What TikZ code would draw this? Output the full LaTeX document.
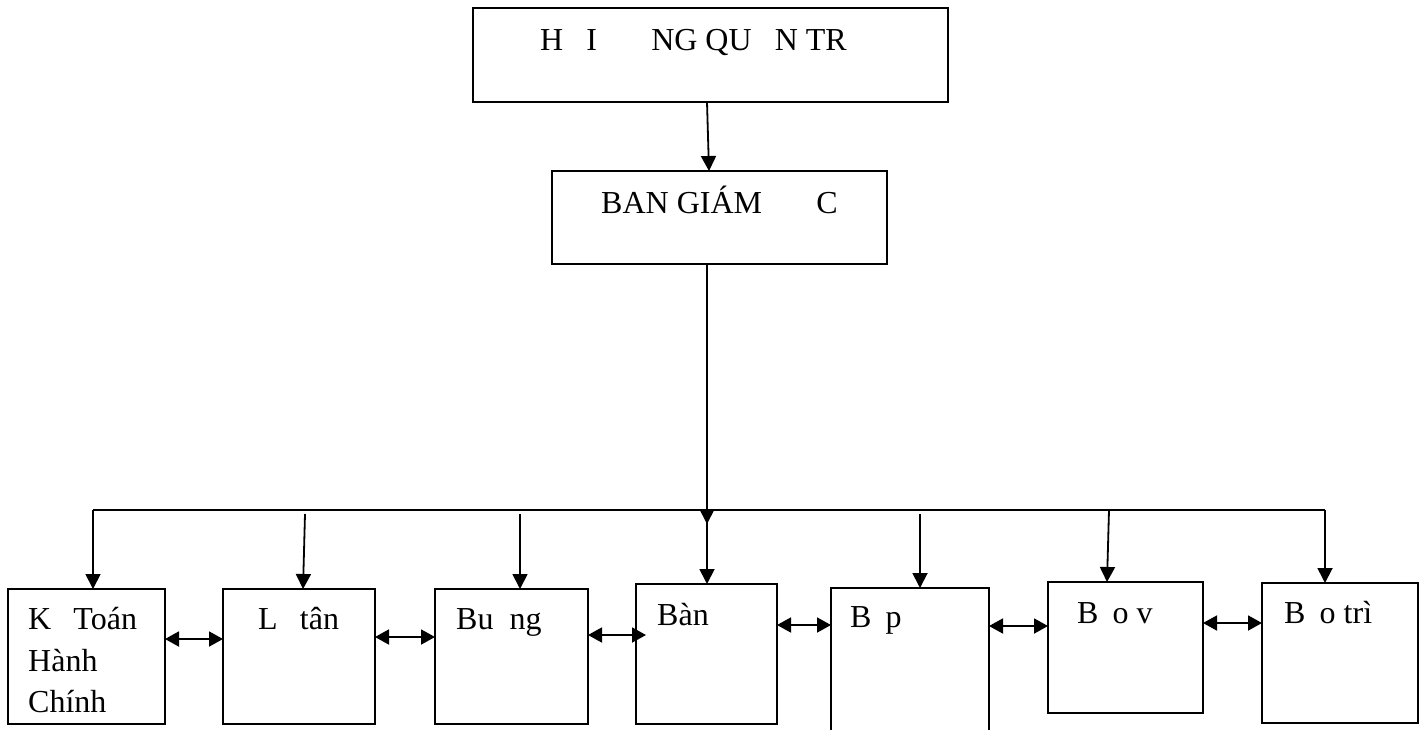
\documentclass[tikz,border=0pt]{standalone}
\usepackage{fontspec}
\setmainfont{Liberation Serif}
\usetikzlibrary{arrows.meta}
\tikzset{
  box/.style={draw, line width=1.8pt, inner sep=0pt, outer sep=0pt},
  txt/.style={anchor=base west, inner sep=0pt, font=\fontsize{32}{41}\selectfont},
  link/.style={line width=1.8pt, -{Triangle[length=15pt,width=15pt]}},
  both/.style={line width=1.8pt, {Triangle[length=14pt,width=15pt]}-{Triangle[length=14pt,width=15pt]}},
  bus/.style={line width=1.8pt},
}
\begin{document}
\begin{tikzpicture}[x=1pt,y=-1pt]
\clip (0,0) rectangle (1423,729);

% boxes
\node[box, minimum width=475pt, minimum height=94pt]  (hdqt) at (710.5,55) {};
\node[box, minimum width=335pt, minimum height=93pt]  (bgd)  at (719.5,217.5) {};
\node[box, minimum width=157pt, minimum height=135pt] (kt)   at (86.5,656.5) {};
\node[box, minimum width=152pt, minimum height=135pt] (lt)   at (299,656.5) {};
\node[box, minimum width=153pt, minimum height=135pt] (bu)   at (511.5,656.5) {};
\node[box, minimum width=141pt, minimum height=140pt] (ban)  at (706.5,654) {};
\node[box, minimum width=158pt, minimum height=182pt] (bep)  at (910,679) {};
\node[box, minimum width=155pt, minimum height=131pt] (bv)   at (1125.5,647.5) {};
\node[box, minimum width=156pt, minimum height=140pt] (bt)   at (1340,653) {};

% labels
\node[txt] (t0)  at (540,50)   {H\phantom{O}I \phantom{OO}NG QU\phantom{A}N TR};
\node[txt] (t1)  at (601,213)  {BAN GIÁM \phantom{OO}C};
\node[txt] (t2a) at (28,629)   {K\phantom{e} Toán};
\node[txt] (t2b) at (28,671)   {Hành};
\node[txt] (t2c) at (28,712)   {Chính};
\node[txt] (t3)  at (258,629)  {L\phantom{e} tân};
\node[txt] (t4)  at (456,629)  {Bu\phantom{o}ng};
\node[txt] (t5)  at (657,625)  {Bàn};
\node[txt] (t6)  at (850,627)  {B\phantom{e}p};
\node[txt] (t7)  at (1077,623) {B\phantom{a}o v};
\node[txt] (t8)  at (1284,623) {B\phantom{a}o trì};

% helper points
\coordinate (busL) at (93,510);
\coordinate (busR) at (1325,510);
\coordinate (hub)  at (707,510);
\coordinate (d2) at (305,514);
\coordinate (d3) at (520,514);
\coordinate (d5) at (920,514);
\coordinate (d6) at (1109,510);
\coordinate (h1) at (0,639);
\coordinate (h2) at (0,637);
\coordinate (h3) at (0,635);
\coordinate (h4) at (0,625);
\coordinate (h5) at (0,626);
\coordinate (h6) at (0,623);

% top-down links
\draw[link] ([xshift=-3.5pt]hdqt.south) -- ([xshift=-10.5pt]bgd.north);
\draw[bus] (busL) -- (busR);
\draw[link] (bgd.south -| hub) -- ([yshift=-14pt]hub);
\draw[link] (hub) -- (hub |- ban.north);
\draw[link] (busL) -- (busL |- kt.north);
\draw[link] (d2) -- ([xshift=4pt]lt.north);
\draw[link] (d3) -- (d3 |- bu.north);
\draw[link] (d5) -- (d5 |- bep.north);
\draw[link] (d6) -- ([xshift=-18.5pt]bv.north);
\draw[link] (busR) -- (busR |- bt.north);

% links between neighbouring departments
\draw[both] (kt.east |- h1) -- (lt.west |- h1);
\draw[both] (lt.east |- h2) -- (bu.west |- h2);
\draw[both] (bu.east |- h3) -- ([xshift=10pt]ban.west |- h3);
\draw[both] (ban.east |- h4) -- (bep.west |- h4);
\draw[both] (bep.east |- h5) -- (bv.west |- h5);
\draw[both] (bv.east |- h6) -- (bt.west |- h6);
\end{tikzpicture}
\end{document}
